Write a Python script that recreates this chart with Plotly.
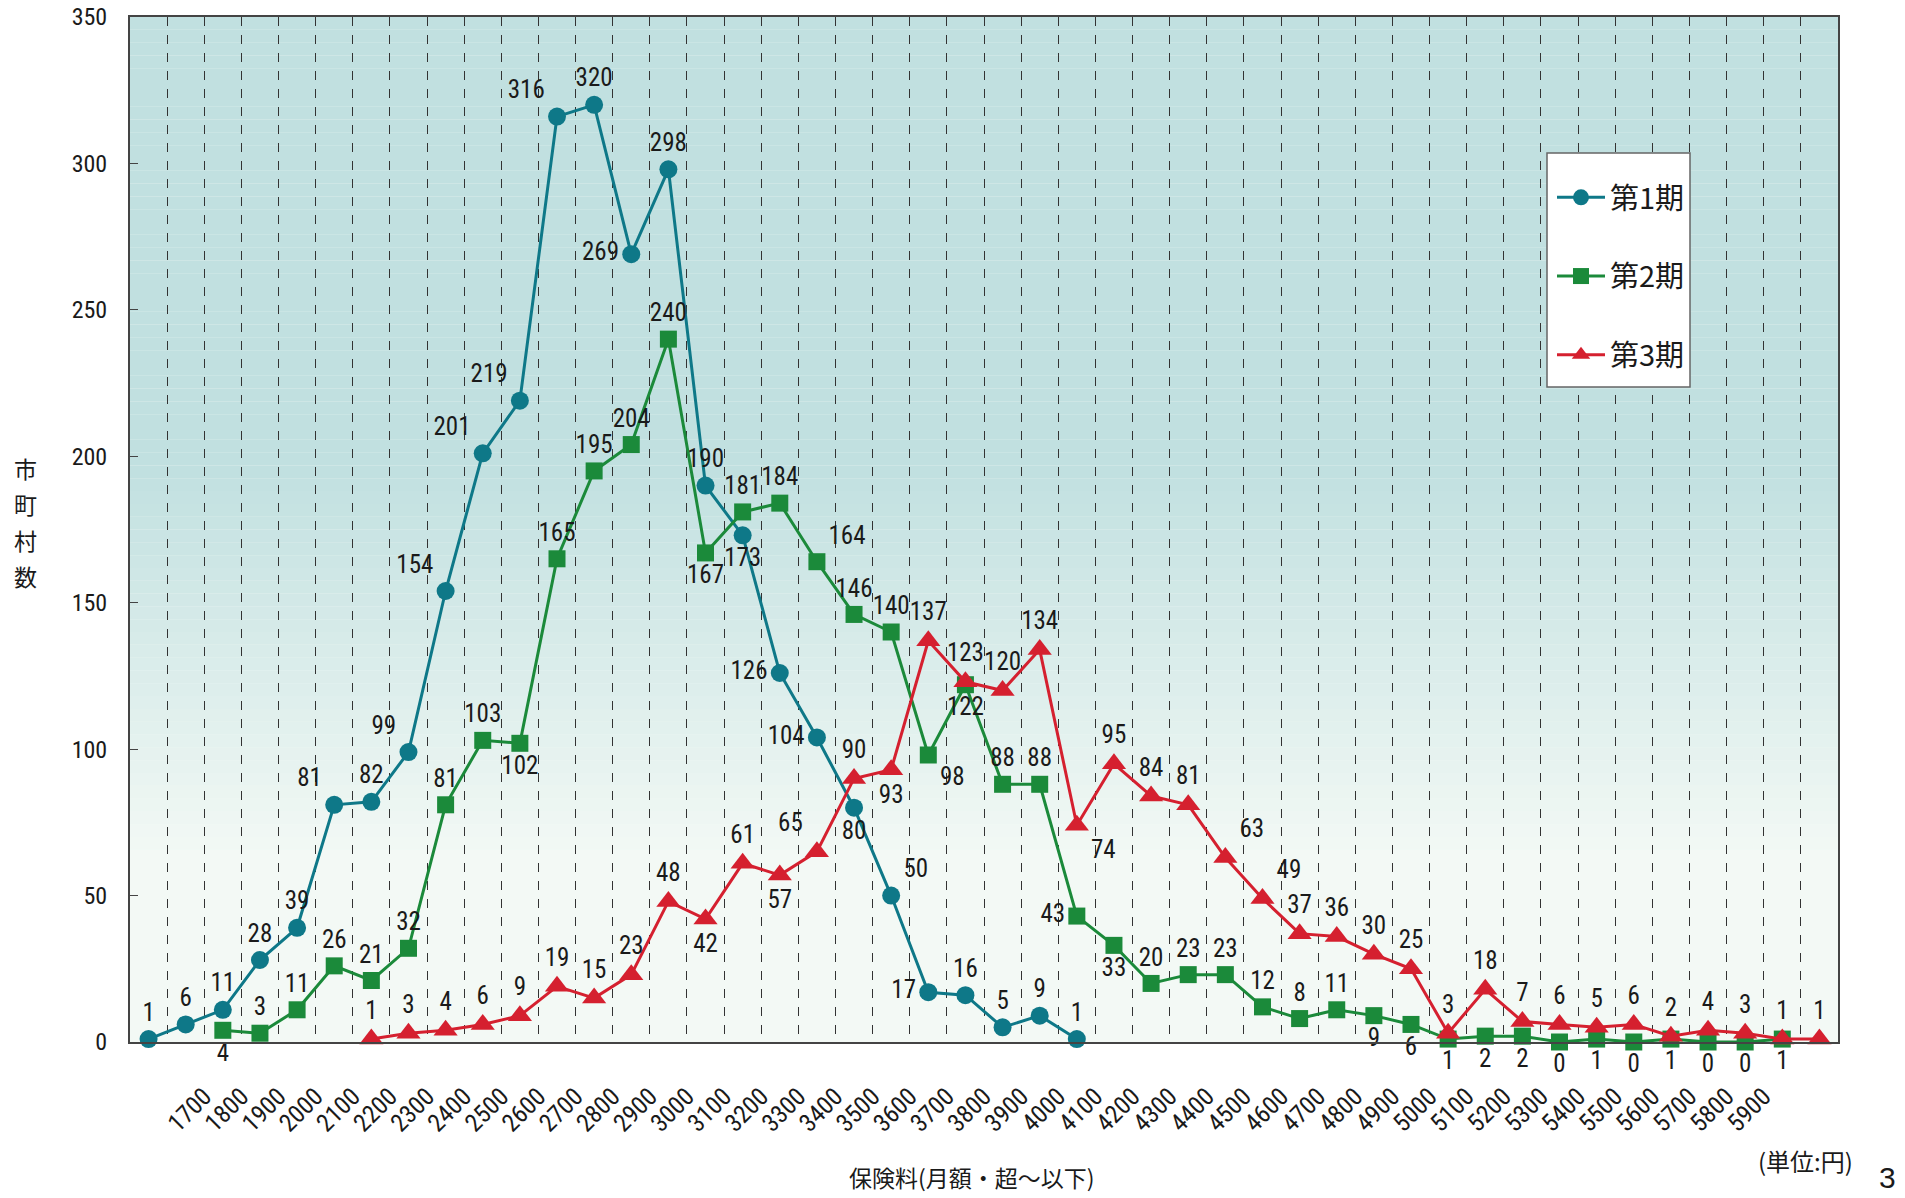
import plotly.graph_objects as go

# ---------------- data ----------------
tick_labels = ['1700', '1800', '1900', '2000', '2100', '2200', '2300', '2400', '2500', '2600',
               '2700', '2800', '2900', '3000', '3100', '3200', '3300', '3400', '3500', '3600',
               '3700', '3800', '3900', '4000', '4100', '4200', '4300', '4400', '4500', '4600',
               '4700', '4800', '4900', '5000', '5100', '5200', '5300', '5400', '5500', '5600',
               '5700', '5800', '5900']
n_categories = 46

period1_start = 0
period1 = [1, 6, 11, 28, 39, 81, 82, 99, 154, 201, 219, 316, 320, 269, 298, 190, 173, 126,
           104, 80, 50, 17, 16, 5, 9, 1]

period2_start = 2
period2 = [4, 3, 11, 26, 21, 32, 81, 103, 102, 165, 195, 204, 240, 167, 181, 184, 164, 146,
           140, 98, 122, 88, 88, 43, 33, 20, 23, 23, 12, 8, 11, 9, 6, 1, 2, 2, 0, 1, 0, 1,
           0, 0, 1]

period3_start = 6
period3 = [1, 3, 4, 6, 9, 19, 15, 23, 48, 42, 61, 57, 65, 90, 93, 137, 123, 120, 134, 74,
           95, 84, 81, 63, 49, 37, 36, 30, 25, 3, 18, 7, 6, 5, 6, 2, 4, 3, 1, 1]

series_names = ['第1期', '第2期', '第3期']
y_title_chars = ['市', '町', '村', '数']

# ---------------- label placement (style) ----------------
TC, TL, TR, BC, BR, ML = 'top center', 'top left', 'top right', 'bottom center', 'bottom right', 'middle left'
pos1 = [TC, TC, TC, TC, TC, TL, TC, TL, TL, TL, TL, TL, TC, ML, TC, TC, BC, ML, ML, BC,
        TR, ML, TC, TC, TC, TC]
pos2 = [BC, TC, TC, TC, TC, TC, TC, TC, BC, TC, TC, TC, TC, BC, TC, TC, TR, TC, TC, BR,
        BC, TC, TC, ML, BC, TC, TC, TC, TC, TC, TC] + [BC] * 12
pos3 = [TC] * 9 + [BC, TC, BC, TL, TC, BC, TC, TC, TC, TC, BR, TC, TC, TC, TR, TR, TC, TC,
                   TC, TC] + [TC] * 11

colors = ['#0e7888', '#1b8a3a', '#d5202f']
symbols = ['circle', 'square', 'triangle-up']
msizes = [18, 17, 21]

NUM_FONT = 'Liberation Sans Narrow, Arial Narrow, Roboto Condensed, Liberation Sans, sans-serif'
JP_FONT = 'Noto Sans CJK JP, sans-serif'

# The page body has an 8px default margin, so the figure is drawn 8px in from the
# window's top-left corner; the geometry below is expressed in window pixels.
OFF = 8
W, H = 1905 - OFF, 1198 - OFF
PL, PR, PT, PB = 130, 1838, 17, 1042          # plot area in window pixels
L, T = PL - OFF, PT - OFF
R = (W + OFF) - PR
B = (H + OFF) - PB
PW, PH = PR - PL, PB - PT


def px(xpix):
    return (xpix - PL) / PW


def py(ypix):
    return 1 - (ypix - PT) / PH


fig = go.Figure()

for i, (start, vals, pos) in enumerate([(period1_start, period1, pos1),
                                         (period2_start, period2, pos2),
                                         (period3_start, period3, pos3)]):
    xs = list(range(start, start + len(vals)))
    fig.add_trace(go.Scatter(
        x=xs, y=vals, mode='lines+markers+text', name=series_names[i],
        text=[str(v) for v in vals], textposition=pos,
        textfont=dict(family=NUM_FONT, size=25, color='#1a1a1a'),
        line=dict(color=colors[i], width=3),
        marker=dict(symbol=symbols[i], size=msizes[i], color=colors[i]),
        cliponaxis=False, legendgroup=f'g{i}',
    ))

# gradient background of plot area (style only)
def lerp(c1, c2, t):
    return '#%02x%02x%02x' % tuple(int(round(a + (b - a) * t)) for a, b in zip(c1, c2))

top_c = (0xc1, 0xe0, 0xe0)
bot_c = (0xf3, 0xf9, 0xf5)
shapes = []
N = 80
for k in range(N):
    y0 = k / N
    y1 = (k + 1) / N
    yc = (y0 + y1) / 2
    if yc >= 0.56:
        t = 0.0
    elif yc <= 0.18:
        t = 1.0
    else:
        t = (0.56 - yc) / (0.56 - 0.18)
    shapes.append(dict(type='rect', xref='paper', yref='paper', x0=0, x1=1, y0=y0, y1=y1,
                       fillcolor=lerp(top_c, bot_c, t), line=dict(width=0), layer='below'))

# legend box (white panel with grey frame)
shapes.append(dict(type='rect', xref='paper', yref='paper',
                   x0=px(1547), x1=px(1690), y0=py(387), y1=py(153),
                   fillcolor='white', line=dict(color='#666666', width=1.5), layer='above'))

tickvals = [k + 0.5 for k in range(n_categories - 1)]
ticktext = [''] + tick_labels + ['']

annotations = []
for j, ch in enumerate(y_title_chars):
    annotations.append(dict(text=ch, xref='paper', yref='paper', x=px(25), y=py(468 + 36 * j),
                            xanchor='center', yanchor='middle', showarrow=False,
                            font=dict(family=JP_FONT, size=23, color='#1a1a1a')))
annotations += [
    dict(text='保険料(月額・超～以下)', xref='paper', yref='paper', x=px(972), y=py(1177),
         xanchor='center', yanchor='middle', showarrow=False,
         font=dict(family=JP_FONT, size=23, color='#1a1a1a')),
    dict(text='(単位:円)', xref='paper', yref='paper', x=px(1805), y=py(1160),
         xanchor='center', yanchor='middle', showarrow=False,
         font=dict(family=JP_FONT, size=24, color='#1a1a1a')),
    dict(text='3', xref='paper', yref='paper', x=px(1887), y=py(1177),
         xanchor='center', yanchor='middle', showarrow=False,
         font=dict(family='Liberation Sans, sans-serif', size=30, color='#1a1a1a')),
]

fig.update_layout(
    width=W, height=H,
    margin=dict(l=L, r=R, t=T, b=B, autoexpand=False),
    paper_bgcolor='white', plot_bgcolor='#f3f9f5',
    shapes=shapes,
    showlegend=True,
    legend=dict(
        x=px(1552), y=py(172), xanchor='left', yanchor='top',
        bgcolor='rgba(0,0,0,0)', borderwidth=0,
        font=dict(family=JP_FONT, size=29, color='#1a1a1a'),
        tracegroupgap=38, itemwidth=48,
    ),
    xaxis=dict(
        range=[-0.5, n_categories - 0.5], automargin=False,
        tickmode='array', tickvals=tickvals, ticktext=ticktext,
        tickangle=-45, ticks='', ticklabelstandoff=28,
        tickfont=dict(family=NUM_FONT, size=25, color='#1a1a1a'),
        showgrid=True, gridcolor='#333333', gridwidth=1, griddash='dash',
        showline=True, linecolor='#444444', linewidth=2, mirror=True,
        zeroline=False,
    ),
    yaxis=dict(
        range=[0, 350], dtick=50, tick0=0, automargin=False,
        ticks='inside', ticklen=8, tickcolor='#444444',
        ticklabeloverflow='allow', ticklabelstandoff=16,
        tickfont=dict(family=NUM_FONT, size=24, color='#1a1a1a'),
        showgrid=False, zeroline=False,
        showline=True, linecolor='#444444', linewidth=2, mirror=True,
    ),
    annotations=annotations,
)

fig.write_html('out.html')
